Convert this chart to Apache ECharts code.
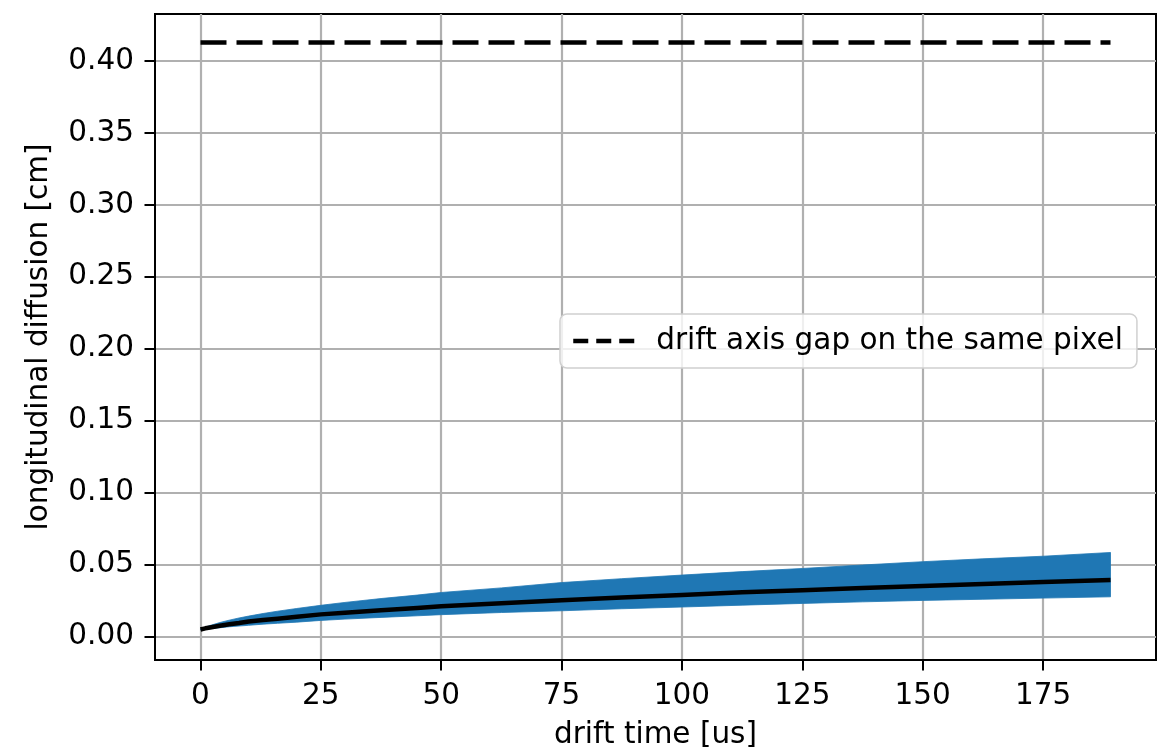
<!DOCTYPE html>
<html><head><meta charset="utf-8">
<script src="https://cdn.jsdelivr.net/npm/echarts@6/dist/echarts.min.js"></script>
<style>html,body{margin:0;padding:0;background:#fff}#c{width:1166px;height:755px}</style>
</head><body><div id="c"></div>
<script>
// ---- data ----
const driftTime     = [0,      1,      2,      4,      6,      8,      10,     13,     16,     20,     25,     30,     37.5,   45,     50,     62.5,   75,     87.5,   100,    112.5,  125,    137.5,  150,    162.5,  175,    189];
const diffusionMean = [0.0050, 0.0058, 0.0064, 0.0076, 0.0086, 0.0095, 0.0106, 0.0116, 0.0125, 0.0138, 0.0155, 0.0167, 0.0184, 0.0200, 0.0211, 0.0233, 0.0253, 0.0273, 0.0290, 0.0308, 0.0323, 0.0338, 0.0352, 0.0366, 0.0380, 0.0394];
const diffusionLow  = [0.0048, 0.0052, 0.0056, 0.0062, 0.0069, 0.0074, 0.0079, 0.0087, 0.0093, 0.0101, 0.0113, 0.0122, 0.0134, 0.0145, 0.0153, 0.0168, 0.0180, 0.0194, 0.0206, 0.0219, 0.0231, 0.0242, 0.0252, 0.0260, 0.0268, 0.0277];
const diffusionHigh = [0.0052, 0.0066, 0.0078, 0.0098, 0.0115, 0.0130, 0.0143, 0.0161, 0.0177, 0.0196, 0.0218, 0.0238, 0.0265, 0.0289, 0.0307, 0.0339, 0.0376, 0.0403, 0.0428, 0.0452, 0.0474, 0.0498, 0.0521, 0.0541, 0.0559, 0.0585];
const gapTime  = [0, 189];
const gapValue = [0.4128, 0.4128];
const xTicks = [0, 25, 50, 75, 100, 125, 150, 175];
const yTicks = [0, 0.05, 0.10, 0.15, 0.20, 0.25, 0.30, 0.35, 0.40];
const xRange = [-9.45, 198.45];
const yRange = [-0.0162, 0.4326];
const legendLabel = 'drift axis gap on the same pixel';
const xLabel = 'drift time [us]';
const yLabel = 'longitudinal diffusion [cm]';

// ---- build ----
const pairs = (xs, ys) => xs.map((x, i) => [x, ys[i]]);
const FONT = 'DejaVu Sans';
const FS = 29.5;

const chart = echarts.init(document.getElementById('c'), null, {renderer: 'canvas'});
chart.setOption({
  animation: false,
  backgroundColor: '#ffffff',
  textStyle: {fontFamily: FONT},
  grid: {left: 155, top: 14, width: 1001, height: 649, show: true,
         borderColor: '#000', borderWidth: 2, backgroundColor: 'transparent'},
  legend: {
    data: [legendLabel],
    left: 560, top: 314,
    padding: [10, 14, 10, 11],
    itemWidth: 61, itemHeight: 12,
    itemStyle: {opacity: 0},
    lineStyle: {color: '#000', width: 4.5, type: [15, 8], opacity: 1},
    backgroundColor: 'rgba(255,255,255,0.8)',
    borderColor: '#d0d0d0', borderWidth: 1.5, borderRadius: 7,
    textStyle: {fontFamily: FONT, fontSize: FS, color: '#000', lineHeight: 34, padding: [0, 0, 0, 17]}
  },
  xAxis: {
    type: 'value', min: xRange[0], max: xRange[1],
    minInterval: 25, maxInterval: 25,
    name: xLabel, nameLocation: 'middle', nameGap: 60,
    nameTextStyle: {fontFamily: FONT, fontSize: FS, color: '#000'},
    axisLine: {show: true, onZero: false, lineStyle: {color: '#000', width: 2}},
    axisTick: {show: true, length: 10.5, lineStyle: {color: '#000', width: 2}, customValues: xTicks},
    axisLabel: {fontFamily: FONT, fontSize: FS, color: '#000', margin: 21, customValues: xTicks,
                formatter: v => String(Math.round(v))},
    splitLine: {show: true, lineStyle: {color: '#b0b0b0', width: 2.2}}
  },
  yAxis: {
    type: 'value', min: yRange[0], max: yRange[1],
    minInterval: 0.05, maxInterval: 0.05,
    name: yLabel, nameLocation: 'middle', nameGap: 101, nameRotate: 90,
    nameTextStyle: {fontFamily: FONT, fontSize: FS, color: '#000'},
    axisLine: {show: true, onZero: false, lineStyle: {color: '#000', width: 2}},
    axisTick: {show: true, length: 10.5, lineStyle: {color: '#000', width: 2}, customValues: yTicks},
    axisLabel: {fontFamily: FONT, fontSize: FS, color: '#000', margin: 21, customValues: yTicks,
                formatter: v => Math.abs(v).toFixed(2)},
    splitLine: {show: true, lineStyle: {color: '#b0b0b0', width: 2.2}}
  },
  series: [
    {name: 'band', type: 'custom', silent: true, z: 2,
     data: [[driftTime[0], diffusionLow[0]]],
     renderItem: (params, api) => {
       const top = driftTime.map((t, i) => api.coord([t, diffusionHigh[i]]));
       const bottom = driftTime.map((t, i) => api.coord([t, diffusionLow[i]])).reverse();
       return {type: 'polygon', shape: {points: top.concat(bottom)},
               style: {fill: '#1f77b4', stroke: '#1f77b4', lineWidth: 0.8}};
     }},
    {name: 'mean', type: 'line', data: pairs(driftTime, diffusionMean),
     symbol: 'none', lineStyle: {color: '#000', width: 4.5, cap: 'butt', join: 'round'}, z: 3, silent: true},
    {name: legendLabel, type: 'line', data: pairs(gapTime, gapValue),
     symbol: 'none', itemStyle: {color: '#000'},
     lineStyle: {color: '#000', width: 4.5, type: [26, 10]}, z: 3, silent: true}
  ]
});
</script>
</body></html>
